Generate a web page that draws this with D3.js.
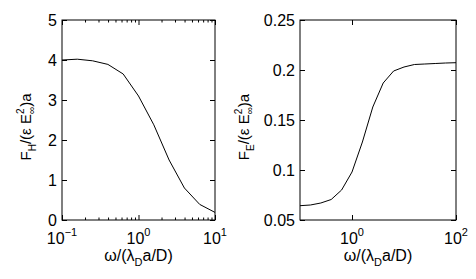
<!DOCTYPE html>
<html>
<head>
<meta charset="utf-8">
<script src="https://cdn.jsdelivr.net/npm/d3@7"></script>
<style>
body { margin: 0; background: #fff; }
svg text { font-family: "Liberation Sans", Arial, sans-serif; fill: #000; }
.tick line { stroke: #000; }
</style>
</head>
<body>
<svg id="chart" width="476" height="279"></svg>
<script>
// left panel: F_H
var omegaH = [0.1, 0.1585, 0.2512, 0.3981, 0.631, 1, 1.585, 2.512, 3.981, 6.31, 10];
var forceH = [4.0, 4.02, 3.98, 3.89, 3.65, 3.1, 2.38, 1.5, 0.8, 0.39, 0.19];
var yTicksH = [0, 1, 2, 3, 4, 5];
var xTicksH = [0.1, 1, 10];

// right panel: F_E
var omegaE = [0.1, 0.1585, 0.2512, 0.3981, 0.631, 1, 1.585, 2.512, 3.981, 6.31, 10, 15.85, 25.12, 39.81, 63.1, 100];
var forceE = [0.0643, 0.065, 0.067, 0.0705, 0.080, 0.098, 0.128, 0.163, 0.187, 0.199, 0.203, 0.2055, 0.206, 0.2065, 0.207, 0.2073];
var yTicksE = [0.05, 0.1, 0.15, 0.2, 0.25];
var xTicksE = [1, 100];

var svg = d3.select("#chart");

function panel(opts) {
    var x = d3.scaleLog().domain(opts.xDomain).range([opts.left, opts.right]);
    var y = d3.scaleLinear().domain(opts.yDomain).range([opts.bottom, opts.top]);
    var g = svg.append("g");

    // inward ticks on all four sides
    var minor = opts.minor || [];
    g.append("g").attr("transform", "translate(0," + opts.bottom + ")")
        .call(d3.axisBottom(x).tickValues(opts.xTicks).tickSize(-5).tickSizeOuter(0).tickFormat(""));
    g.append("g").attr("transform", "translate(0," + opts.top + ")")
        .call(d3.axisTop(x).tickValues(opts.xTicks).tickSize(-5).tickSizeOuter(0).tickFormat(""));
    if (minor.length) {
        g.append("g").attr("transform", "translate(0," + opts.bottom + ")")
            .call(d3.axisBottom(x).tickValues(minor).tickSize(-2.5).tickSizeOuter(0).tickFormat(""));
        g.append("g").attr("transform", "translate(0," + opts.top + ")")
            .call(d3.axisTop(x).tickValues(minor).tickSize(-2.5).tickSizeOuter(0).tickFormat(""));
    }
    g.append("g").attr("transform", "translate(" + opts.left + ",0)")
        .call(d3.axisLeft(y).tickValues(opts.yTicks).tickSize(-5).tickSizeOuter(0).tickPadding(5)
            .tickFormat(function (d) { return String(+d.toFixed(2)); }))
        .selectAll("text").style("font-size", "16px").attr("dy", "0.36em");
    g.append("g").attr("transform", "translate(" + opts.right + ",0)")
        .call(d3.axisRight(y).tickValues(opts.yTicks).tickSize(-5).tickSizeOuter(0).tickFormat(""));
    g.selectAll(".domain").remove();

    g.append("rect")
        .attr("x", opts.left).attr("y", opts.top)
        .attr("width", opts.right - opts.left).attr("height", opts.bottom - opts.top)
        .attr("fill", "none").attr("stroke", "#000").attr("stroke-width", 1);

    // x tick labels as 10^n
    opts.xTicks.forEach(function (v) {
        var t = g.append("text")
            .attr("x", x(v)).attr("y", opts.bottom + 24)
            .attr("text-anchor", "middle").style("font-size", "16px");
        t.append("tspan").text("10");
        t.append("tspan").attr("dy", -8).style("font-size", "11px")
            .text(String(Math.round(Math.log10(v))).replace("-", "\u2212"));
    });

    var line = d3.line()
        .x(function (d) { return x(d[0]); })
        .y(function (d) { return y(d[1]); });
    g.append("path")
        .datum(d3.zip(opts.xs, opts.ys))
        .attr("d", line)
        .attr("fill", "none").attr("stroke", "#000").attr("stroke-width", 1);

    // x label
    var xl = g.append("text")
        .attr("x", (opts.left + opts.right) / 2).attr("y", 261)
        .attr("text-anchor", "middle").style("font-size", "16px");
    xl.append("tspan").text("\u03c9/(\u03bb");
    xl.append("tspan").attr("dy", 5).style("font-size", "11px").text("D");
    xl.append("tspan").attr("dy", -5).text("a/D)");

    // y label, rotated
    var yl = g.append("text")
        .attr("transform", "translate(" + opts.yLabelX + ",127) rotate(-90)")
        .attr("text-anchor", "middle").style("font-size", "15px");
    yl.append("tspan").text("F");
    yl.append("tspan").attr("dy", 5).style("font-size", "10px").text(opts.sub);
    yl.append("tspan").attr("dy", -5).text("/(\u03b5 E");
    yl.append("tspan").attr("dy", -7).style("font-size", "10px").text("2");
    yl.append("tspan").attr("dx", -5.5).attr("dy", 11).style("font-size", "10px").text("\u221e");
    yl.append("tspan").attr("dy", -4).text(")a");
}

panel({
    left: 62, right: 215, top: 20, bottom: 220,
    xDomain: [0.1, 10], yDomain: [0, 5],
    xTicks: xTicksH, yTicks: yTicksH,
    minor: [0.2, 0.3, 0.4, 0.5, 0.6, 0.7, 0.8, 0.9, 2, 3, 4, 5, 6, 7, 8, 9],
    xs: omegaH, ys: forceH,
    yLabelX: 31, sub: "H"
});

panel({
    left: 300, right: 456, top: 20, bottom: 220,
    xDomain: [0.1, 100], yDomain: [0.05, 0.25],
    xTicks: xTicksE, yTicks: yTicksE,
    xs: omegaE, ys: forceE,
    yLabelX: 249, sub: "E"
});
</script>
</body>
</html>
